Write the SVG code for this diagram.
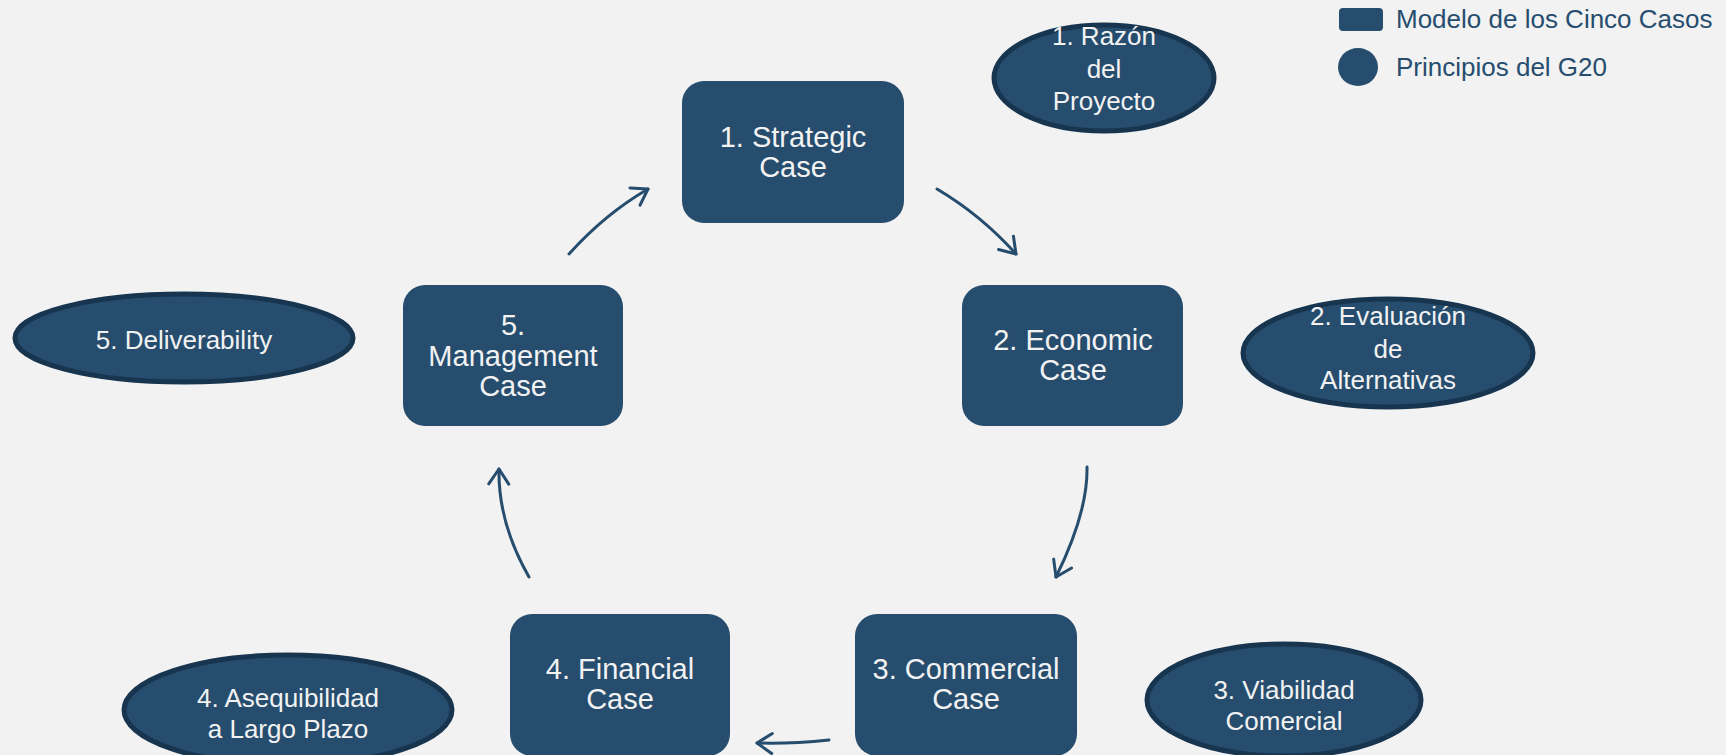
<svg xmlns="http://www.w3.org/2000/svg" width="1726" height="755" viewBox="0 0 1726 755">
<defs>
<style>
.box{fill:#264d6e;}
.ell{fill:#264d6e;stroke:#183550;stroke-width:5;}
.bt{font-family:"Liberation Sans",Arial,sans-serif;font-size:29px;fill:#f2f2f2;text-anchor:middle;}
.et{font-family:"Liberation Sans",Arial,sans-serif;font-size:26px;fill:#f2f2f2;text-anchor:middle;}
.lt{font-family:"Liberation Sans",Arial,sans-serif;font-size:26px;fill:#264d6e;}
.conn{fill:none;stroke:#264d6e;stroke-width:3;stroke-linecap:round;}
</style>
<marker id="arr" markerUnits="userSpaceOnUse" markerWidth="40" markerHeight="40" viewBox="-20 -20 40 40" refX="0" refY="0" orient="auto">
<path d="M -15 -10 L 0 0 L -15 10" fill="none" stroke="#264d6e" stroke-width="3" stroke-linecap="round" stroke-linejoin="round"/>
</marker>
</defs>
<rect width="1726" height="755" fill="#f2f2f2"/>

<g id="legend">
<rect x="1339" y="8" width="44" height="23" rx="4" class="box"/>
<text x="1396" y="28" class="lt">Modelo de los Cinco Casos</text>
<ellipse cx="1358" cy="67" rx="20" ry="19" class="box"/>
<text x="1396" y="76" class="lt">Principios del G20</text>
</g>

<g id="strategic">
<rect x="682" y="81" width="222" height="142" rx="22" class="box"/>
<text class="bt"><tspan x="793" y="147">1. Strategic</tspan><tspan x="793" y="177">Case</tspan></text>
</g>
<g id="economic">
<rect x="962" y="285" width="221" height="141" rx="22" class="box"/>
<text class="bt"><tspan x="1073" y="350">2. Economic</tspan><tspan x="1073" y="380">Case</tspan></text>
</g>
<g id="commercial">
<rect x="855" y="614" width="222" height="142" rx="22" class="box"/>
<text class="bt"><tspan x="966" y="679">3. Commercial</tspan><tspan x="966" y="709">Case</tspan></text>
</g>
<g id="financial">
<rect x="510" y="614" width="220" height="142" rx="22" class="box"/>
<text class="bt"><tspan x="620" y="679">4. Financial</tspan><tspan x="620" y="709">Case</tspan></text>
</g>
<g id="management">
<rect x="403" y="285" width="220" height="141" rx="22" class="box"/>
<text class="bt"><tspan x="513" y="335">5.</tspan><tspan x="513" y="366">Management</tspan><tspan x="513" y="396">Case</tspan></text>
</g>

<g id="razon">
<ellipse cx="1104" cy="78" rx="110" ry="53" class="ell"/>
<text class="et"><tspan x="1104" y="45">1. Razón</tspan><tspan x="1104" y="78">del</tspan><tspan x="1104" y="110">Proyecto</tspan></text>
</g>
<g id="evaluacion">
<ellipse cx="1388" cy="353" rx="145" ry="54" class="ell"/>
<text class="et"><tspan x="1388" y="325">2. Evaluación</tspan><tspan x="1388" y="358">de</tspan><tspan x="1388" y="389">Alternativas</tspan></text>
</g>
<g id="viabilidad">
<ellipse cx="1284" cy="700" rx="137" ry="56" class="ell"/>
<text class="et"><tspan x="1284" y="699">3. Viabilidad</tspan><tspan x="1284" y="730">Comercial</tspan></text>
</g>
<g id="asequibilidad">
<ellipse cx="288" cy="710" rx="164" ry="55" class="ell"/>
<text class="et"><tspan x="288" y="707">4. Asequibilidad</tspan><tspan x="288" y="738">a Largo Plazo</tspan></text>
</g>
<g id="deliverability">
<ellipse cx="184" cy="338" rx="169" ry="44" class="ell"/>
<text class="et"><tspan x="184" y="349">5. Deliverability</tspan></text>
</g>

<g id="connectors">
<path class="conn" marker-end="url(#arr)" d="M 937 189 Q 981 215 1016 254"/>
<path class="conn" marker-end="url(#arr)" d="M 1087 467 Q 1088 512 1056 577"/>
<path class="conn" marker-end="url(#arr)" d="M 829 740 Q 790 744 757 743"/>
<path class="conn" marker-end="url(#arr)" d="M 529 577 Q 498 523 499 469"/>
<path class="conn" marker-end="url(#arr)" d="M 569 254 Q 605 214 648 189"/>
</g>
</svg>
